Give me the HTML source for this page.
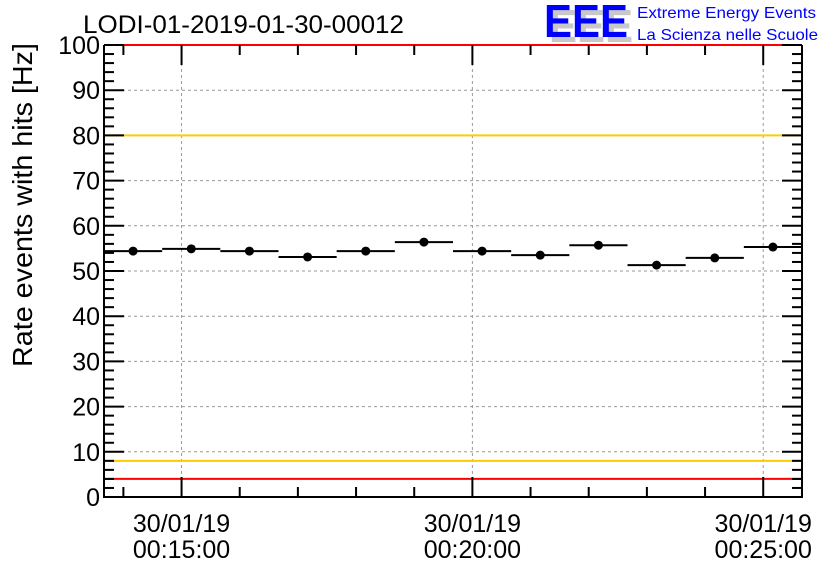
<!DOCTYPE html>
<html><head><meta charset="utf-8">
<style>
body{margin:0;background:#fff;}
svg{display:block;font-family:"Liberation Sans",sans-serif;}
</style></head>
<body>
<svg id="c" width="836" height="572" viewBox="0 0 836 572" xmlns="http://www.w3.org/2000/svg">
<text x="83" y="33" font-size="25" textLength="321" lengthAdjust="spacingAndGlyphs">LODI-01-2019-01-30-00012</text>
<g>
<text x="549" y="42" font-size="46" font-weight="bold" fill="#c8c8c8" textLength="84" lengthAdjust="spacingAndGlyphs">EEE</text>
<text x="544" y="37" font-size="46" font-weight="bold" fill="#0000ff" textLength="84" lengthAdjust="spacingAndGlyphs">EEE</text>
<text x="637" y="18" font-size="16" fill="#0000ff" textLength="179" lengthAdjust="spacingAndGlyphs">Extreme Energy Events</text>
<text x="637" y="40" font-size="16" fill="#0000ff" textLength="181" lengthAdjust="spacingAndGlyphs">La Scienza nelle Scuole</text>
</g>
<text transform="translate(32,205) rotate(-90)" text-anchor="middle" font-size="28" textLength="324" lengthAdjust="spacingAndGlyphs">Rate events with hits [Hz]</text>
<g id="grid"></g><g id="marks"></g><g id="axes"></g>
</svg>
<script>
const binStartSec = -80; // seconds relative to 00:15:00
const binValues = [54.4, 54.9, 54.4, 53.1, 54.4, 56.4, 54.4, 53.5, 55.7, 51.3, 52.9, 55.3];
const binErrors = [0.6, 0.6, 0.6, 0.6, 0.6, 0.6, 0.6, 0.6, 0.6, 0.6, 0.6, 0.6];
const yTicks = [0,10,20,30,40,50,60,70,80,90,100];
const xTickSec = [0, 300, 600];
const xTickLabels = [["30/01/19","00:15:00"],["30/01/19","00:20:00"],["30/01/19","00:25:00"]];
const redLines = [4, 100];
const orangeLines = [8, 80];

const L=104,R=802,T=45,B=497;
const xMin=binStartSec, xMax=binStartSec+60*binValues.length;
const X=s=>L+(s-xMin)/(xMax-xMin)*(R-L);
const Y=v=>B-(v/100)*(B-T);
const NS="http://www.w3.org/2000/svg";
function mk(tag,attrs,parent,name){const e=document.createElementNS(NS,tag);for(const k in attrs)e.setAttribute(k,attrs[k]);


document.getElementById(parent).appendChild(e);return e;}

yTicks.forEach(v=>{if(v>0&&v<100)mk('line',{x1:L,x2:R,y1:Y(v),y2:Y(v),stroke:'#999','stroke-dasharray':'3,3'},'grid','y-grid-line');});
xTickSec.forEach(s=>mk('line',{x1:X(s),x2:X(s),y1:T,y2:B,stroke:'#999','stroke-dasharray':'3,3'},'grid','x-grid-line'));
redLines.forEach(v=>mk('line',{x1:L,x2:R,y1:Y(v),y2:Y(v),stroke:'#ff0000','stroke-width':2},'grid','red-threshold-line'));
orangeLines.forEach(v=>mk('line',{x1:L,x2:R,y1:Y(v),y2:Y(v),stroke:'#ffcc00','stroke-width':2},'grid','orange-threshold-line'));
binValues.forEach((v,i)=>{
  const s0=xMin+60*i, s1=s0+60, cx=X(s0+30);
  mk('line',{x1:X(s0),x2:X(s1),y1:Y(v),y2:Y(v),stroke:'#000','stroke-width':2},'marks','bin-bar');
  mk('line',{x1:cx,x2:cx,y1:Y(v+binErrors[i]),y2:Y(v-binErrors[i]),stroke:'#000','stroke-width':2},'marks','error-bar');
  mk('circle',{cx:cx,cy:Y(v),r:4.5,fill:'#000'},'marks','data-point');
});
mk('line',{x1:L,x2:L,y1:T,y2:B+1,stroke:'#000','stroke-width':2},'axes','y-axis');
mk('line',{x1:R,x2:R,y1:T,y2:B+1,stroke:'#000','stroke-width':2},'axes','right-axis');
mk('line',{x1:L,x2:R+1,y1:B,y2:B,stroke:'#000','stroke-width':2},'axes','x-axis');
for(let v=0;v<=100;v+=2){const maj=v%10===0,len=maj?20:10;
  mk('line',{x1:L,x2:L+len,y1:Y(v),y2:Y(v),stroke:'#000','stroke-width':2},'axes','y-tick');
  mk('line',{x1:R-len,x2:R,y1:Y(v),y2:Y(v),stroke:'#000','stroke-width':2},'axes','y-tick-right');}
yTicks.forEach(v=>{const t=mk('text',{x:L-4,y:Y(v)+9,'text-anchor':'end','font-size':25},'axes','y-tick-label');t.textContent=v;});
for(let s=Math.ceil(xMin/60)*60;s<xMax;s+=60){if(s<=xMin)continue;const maj=xTickSec.includes(s),len=maj?20:10;
  mk('line',{x1:X(s),x2:X(s),y1:B-len,y2:B,stroke:'#000','stroke-width':2},'axes','x-tick');
  mk('line',{x1:X(s),x2:X(s),y1:T,y2:T+len,stroke:'#000','stroke-width':2},'axes','x-tick-top');}
xTickSec.forEach((s,i)=>{
  const t1=mk('text',{x:X(s),y:532,'text-anchor':'middle','font-size':25},'axes','x-tick-date');t1.textContent=xTickLabels[i][0];
  const t2=mk('text',{x:X(s),y:558,'text-anchor':'middle','font-size':25},'axes','x-tick-time');t2.textContent=xTickLabels[i][1];
});
</script>
</body></html>
